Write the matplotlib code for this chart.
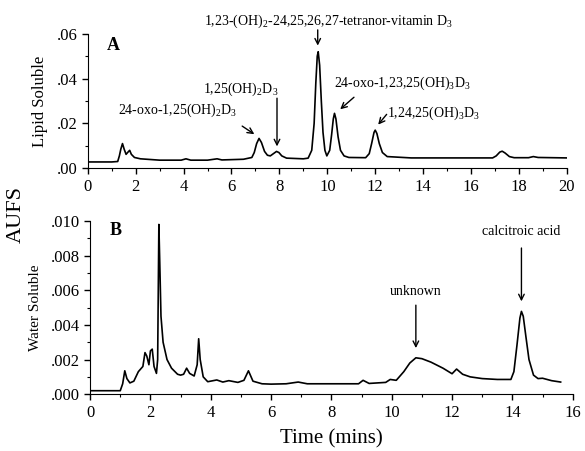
import matplotlib
matplotlib.use('Agg')
import matplotlib.pyplot as plt
from matplotlib.ticker import MultipleLocator, FixedLocator, FixedFormatter

plt.rcParams['font.family'] = ['Liberation Serif', 'DejaVu Serif']
plt.rcParams['mathtext.fontset'] = 'custom'
plt.rcParams['mathtext.rm'] = 'Liberation Serif'
plt.rcParams['mathtext.it'] = 'Liberation Serif:italic'
plt.rcParams['mathtext.bf'] = 'Liberation Serif:bold'

# ── Panel A: lipid soluble chromatogram (time in min, AUFS) ──
lipid_t = [0.0, 1.0, 1.25, 1.32, 1.38, 1.45, 1.52, 1.6, 1.68, 1.75, 1.82, 1.95,
           2.2, 3.0, 3.9, 4.1, 4.3, 5.0, 5.4, 5.6, 6.5, 6.85, 6.95, 7.05, 7.15,
           7.25, 7.38, 7.5, 7.62, 7.75, 7.88, 7.98, 8.1, 8.3, 9.0, 9.2, 9.35, 9.45,
           9.52, 9.58, 9.62, 9.68, 9.75, 9.82, 9.9, 9.98, 10.1, 10.18, 10.25, 10.3,
           10.36, 10.45, 10.55, 10.7, 10.9, 11.6, 11.75, 11.85, 11.95, 12.0, 12.07,
           12.17, 12.3, 12.5, 13.5, 15.0, 16.9, 17.05, 17.2, 17.3, 17.42, 17.6,
           17.8, 18.4, 18.6, 18.8, 20.0]
lipid_y = [0.0028, 0.0028, 0.0030, 0.0055, 0.0085, 0.0110, 0.0085, 0.0062, 0.0072,
           0.0080, 0.0062, 0.0048, 0.0042, 0.0036, 0.0036, 0.0042, 0.0036, 0.0036,
           0.0042, 0.0037, 0.0040, 0.0048, 0.0070, 0.0110, 0.0133, 0.0115, 0.0075,
           0.0058, 0.0055, 0.0065, 0.0075, 0.0070, 0.0055, 0.0045, 0.0042, 0.0045,
           0.0080, 0.0200, 0.0380, 0.0500, 0.0520, 0.0460, 0.0300, 0.0160, 0.0080,
           0.0055, 0.0080, 0.0150, 0.0220, 0.0245, 0.0220, 0.0140, 0.0080, 0.0055,
           0.0048, 0.0047, 0.0065, 0.0110, 0.0160, 0.0170, 0.0155, 0.0110, 0.0070,
           0.0052, 0.0046, 0.0046, 0.0046, 0.0055, 0.0072, 0.0076, 0.0068, 0.0052,
           0.0047, 0.0047, 0.0052, 0.0048, 0.0046]

# ── Panel B: water soluble chromatogram ──
water_t = [0.05, 1.0, 1.08, 1.15, 1.22, 1.32, 1.45, 1.6, 1.75, 1.82, 1.88, 1.95,
           2.0, 2.06, 2.12, 2.2, 2.24, 2.28, 2.31, 2.35, 2.42, 2.55, 2.7, 2.9, 3.0,
           3.1, 3.2, 3.3, 3.45, 3.55, 3.6, 3.65, 3.75, 3.9, 4.2, 4.4, 4.6, 4.9, 5.1,
           5.25, 5.4, 5.7, 6.0, 6.5, 6.9, 7.2, 8.0, 8.9, 9.05, 9.25, 9.8, 9.95,
           10.15, 10.4, 10.6, 10.8, 11.0, 11.3, 11.7, 12.0, 12.15, 12.35, 12.6, 13.0,
           13.5, 13.95, 14.05, 14.15, 14.25, 14.3, 14.36, 14.45, 14.55, 14.7, 14.85,
           15.0, 15.3, 15.6]
water_y = [0.00020, 0.00020, 0.00060, 0.00135, 0.00090, 0.00065, 0.00075, 0.00130,
           0.00160, 0.00240, 0.00220, 0.00170, 0.00250, 0.00260, 0.00160, 0.00120,
           0.00200, 0.00980, 0.00760, 0.00450, 0.00300, 0.00200, 0.00150, 0.00115,
           0.00110, 0.00115, 0.00150, 0.00120, 0.00105, 0.00170, 0.00320, 0.00200,
           0.00100, 0.00072, 0.00082, 0.00070, 0.00078, 0.00068, 0.00080, 0.00135,
           0.00075, 0.00060, 0.00058, 0.00060, 0.00070, 0.00060, 0.00060, 0.00060,
           0.00080, 0.00062, 0.00068, 0.00085, 0.00080, 0.00130, 0.00180, 0.00210,
           0.00205, 0.00185, 0.00150, 0.00118, 0.00145, 0.00115, 0.00100, 0.00090,
           0.00085, 0.00085, 0.00130, 0.00280, 0.00440, 0.00478, 0.00450, 0.00330,
           0.00200, 0.00110, 0.00090, 0.00092, 0.00078, 0.00070]

lipid_yticks = [0.0, 0.02, 0.04, 0.06]
lipid_ylabels = ['.00', '.02', '.04', '.06']
water_yticks = [0.0, 0.002, 0.004, 0.006, 0.008, 0.010]
water_ylabels = ['.000', '.002', '.004', '.006', '.008', '.010']

fig = plt.figure(figsize=(5.85, 4.51), dpi=100)
axA = fig.add_axes([0.150, 0.627, 0.819, 0.298])
axB = fig.add_axes([0.154, 0.126, 0.825, 0.384])


def style(ax, xmax, yticks, ylabels, yminor):
    for s in ('top', 'right'):
        ax.spines[s].set_visible(False)
    ax.set_xlim(0, xmax)
    ax.set_ylim(0, yticks[-1])
    ax.xaxis.set_major_locator(MultipleLocator(2))
    ax.xaxis.set_minor_locator(MultipleLocator(1))
    ax.yaxis.set_major_locator(FixedLocator(yticks))
    ax.yaxis.set_major_formatter(FixedFormatter(ylabels))
    ax.yaxis.set_minor_locator(MultipleLocator(yminor))
    ax.tick_params(which='major', direction='out', length=4, width=1, labelsize=12)
    ax.tick_params(which='minor', direction='out', length=2.5, width=0.8)


axA.plot(lipid_t, lipid_y, color='black', lw=1.2)
style(axA, 20, lipid_yticks, lipid_ylabels, 0.01)
axA.text(0.8, 0.053, 'A', fontsize=13, fontweight='bold')
axA.set_ylabel('Lipid Soluble', fontsize=12, labelpad=6)

ann = dict(fontsize=10, ha='left', va='center')
arrow = dict(arrowstyle='->', color='black', lw=1.0)
axA.annotate(r'1,23-(OH)$_2$-24,25,26,27-tetranor-vitamin D$_3$',
             xy=(9.6, 0.0535), xytext=(4.85, 0.0655), fontsize=10,
             va='center', annotation_clip=False)
axA.annotate('', xy=(9.6, 0.0535), xytext=(9.6, 0.0630),
             arrowprops=arrow, annotation_clip=False)
axA.annotate(r'1,25(OH)$_2$D$_3$', xy=(7.9, 0.0085), xytext=(4.8, 0.035), **ann)
axA.annotate('', xy=(7.9, 0.0085), xytext=(7.9, 0.0325), arrowprops=arrow)
axA.annotate(r'24-oxo-1,25(OH)$_2$D$_3$', xy=(6.8, 0.0135), xytext=(1.25, 0.026), **ann)
axA.annotate('', xy=(7.05, 0.0145), xytext=(6.35, 0.0195), arrowprops=arrow)
axA.annotate(r'24-oxo-1,23,25(OH)$_3$D$_3$', xy=(10.4, 0.026), xytext=(10.3, 0.038), **ann)
axA.annotate('', xy=(10.45, 0.0255), xytext=(11.2, 0.0325), arrowprops=arrow)
axA.annotate(r'1,24,25(OH)$_3$D$_3$', xy=(12.0, 0.019), xytext=(12.5, 0.0245), **ann)
axA.annotate('', xy=(12.05, 0.0185), xytext=(12.55, 0.025), arrowprops=arrow)

axB.plot(water_t, water_y, color='black', lw=1.2)
style(axB, 16, water_yticks, water_ylabels, 0.001)
axB.text(0.65, 0.0092, 'B', fontsize=13, fontweight='bold')
axB.set_ylabel('Water Soluble', fontsize=11, labelpad=6)
axB.set_xlabel('Time (mins)', fontsize=15, labelpad=6)

axB.text(10.8, 0.0059, 'unknown', fontsize=10, ha='center', va='center')
axB.annotate('', xy=(10.8, 0.0025), xytext=(10.8, 0.0053), arrowprops=arrow)
axB.text(14.3, 0.0094, 'calcitroic acid', fontsize=10, ha='center', va='center')
axB.annotate('', xy=(14.3, 0.0052), xytext=(14.3, 0.0086), arrowprops=arrow)

fig.text(0.028, 0.525, 'AUFS', fontsize=16, rotation=90, ha='center', va='center')

fig.savefig('out.png', dpi=100)
